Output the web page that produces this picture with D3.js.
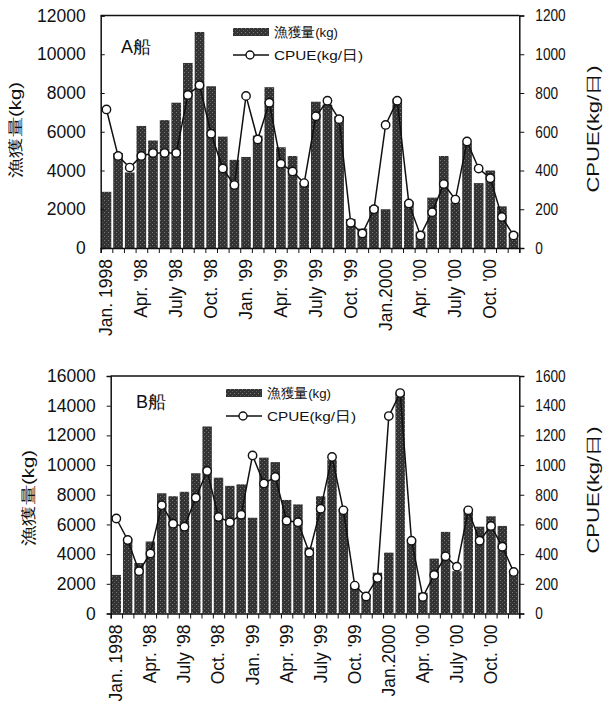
<!DOCTYPE html>
<meta charset="utf-8">
<script src="https://d3js.org/d3.v7.min.js"></script>
<style>
  body { margin: 0; background: #fff; }
  text { font-family: "Liberation Sans", Arial, sans-serif; fill: #111; }
</style>
<div id="chart"></div>
<script>

  // monthly data, Jan 1998 - Dec 2000
  const monthCount = 36
  const xTickLabels = ["Jan. 1998", "Apr. '98", "July '98", "Oct. '98", "Jan. '99", "Apr. '99",
    "July '99", "Oct. '99", "Jan.2000", "Apr. '00", "July '00", "Oct. '00"]

  // ship A
  const catchA = [2900, 4900, 3900, 6300, 5550, 6600, 7500, 9550, 11150, 8350, 5750, 4550,
    4700, 5800, 8300, 5200, 4750, 3350, 7550, 7400, 6800, 1500, 1000, 2150,
    2000, 7700, 2400, 850, 2600, 4750, 2350, 5400, 3350, 4000, 2150, 800]
  const cpueA = [715, 475, 415, 475, 490, 490, 490, 790, 840, 590, 410, 325,
    785, 560, 750, 435, 395, 335, 680, 760, 665, 130, 75, 200,
    635, 760, 230, 65, 185, 330, 250, 550, 410, 360, 160, 65]

  // ship B
  const catchB = [2600, 5050, 3400, 4850, 8100, 7900, 8200, 9450, 12600, 9150, 8600, 8700,
    6450, 10500, 10200, 7650, 7350, 4450, 7900, 10350, 7050, 1850, 1250, 2750,
    4100, 14900, 5000, 1400, 3700, 5500, 2850, 7050, 5850, 6550, 5900, 2900]
  const cpueB = [640, 495, 285, 405, 730, 605, 585, 780, 960, 650, 615, 665,
    1065, 875, 920, 625, 615, 410, 705, 1055, 695, 188, 115, 240,
    1330, 1485, 490, 112, 260, 385, 315, 695, 490, 590, 450, 280]

  const W = 604, H = 709

  const svg = d3.select("#chart")
    .append("svg")
      .attr("width", W)
      .attr("height", H)

  // speckled dark fill like the printed bars
  const defs = svg.append("defs")
  const pat = defs.append("pattern")
    .attr("id", "barfill")
    .attr("patternUnits", "userSpaceOnUse")
    .attr("width", 4).attr("height", 4)
  pat.append("rect").attr("width", 4).attr("height", 4).attr("fill", "#333")
  pat.append("rect").attr("x", 0).attr("y", 0).attr("width", 1).attr("height", 1).attr("fill", "#7a7a7a")
  pat.append("rect").attr("x", 2).attr("y", 2).attr("width", 1).attr("height", 1).attr("fill", "#5e5e5e")

  function drawPanel(cfg) {
    const g = svg.append("g")

    const x = d3.scaleBand()
      .domain(d3.range(monthCount))
      .range([cfg.left, cfg.right])
      .paddingInner(0.17)
      .paddingOuter(0.08)
    const xb = d3.scaleLinear().domain([0, monthCount]).range([cfg.left, cfg.right])

    const yL = d3.scaleLinear().domain([0, cfg.catchMax]).range([cfg.bottom, cfg.top])
    const yR = d3.scaleLinear().domain([0, cfg.cpueMax]).range([cfg.bottom, cfg.top])

    // bars
    g.selectAll("rect.bar")
      .data(cfg.catchData)
      .join("rect")
        .attr("class", "bar")
        .attr("x", (d, i) => x(i))
        .attr("width", x.bandwidth())
        .attr("y", d => yL(d))
        .attr("height", d => cfg.bottom - yL(d))
        .attr("fill", "url(#barfill)")

    // frame top
    g.append("line")
      .attr("x1", cfg.left).attr("x2", cfg.right)
      .attr("y1", cfg.top).attr("y2", cfg.top)
      .attr("stroke", "#111").attr("stroke-width", 1.3)

    // left axis
    const axL = g.append("g")
      .attr("transform", `translate(${cfg.left},0)`)
      .call(d3.axisLeft(yL).tickValues(d3.range(0, cfg.catchMax + 1, cfg.catchStep))
        .tickSize(cfg.leftTick).tickPadding(15 - Math.max(cfg.leftTick, 0)).tickFormat(d3.format("d")))
    axL.select(".domain").attr("stroke", "#111").attr("stroke-width", 1.5)
    axL.selectAll(".tick line").attr("stroke", "#111")
    axL.selectAll("text").style("font-size", "17.5px").attr("fill", "#111")

    // right axis
    const axR = g.append("g")
      .attr("transform", `translate(${cfg.right},0)`)
      .call(d3.axisRight(yR).tickValues(d3.range(0, cfg.cpueMax + 1, cfg.cpueStep))
        .tickSize(5).tickPadding(11).tickFormat(d3.format("d")))
    axR.select(".domain").attr("stroke", "#111").attr("stroke-width", 1.5)
    axR.selectAll(".tick line").attr("stroke", "#111")
    axR.selectAll("text")
      .style("font-size", "16.5px").attr("fill", "#111")
      .attr("textLength", d => String(d).length * 7.6)
      .attr("lengthAdjust", "spacingAndGlyphs")

    // bottom axis: ticks at every month boundary
    const axB = g.append("g")
      .attr("transform", `translate(0,${cfg.bottom})`)
      .call(d3.axisBottom(xb).tickValues(d3.range(monthCount + 1)).tickSize(5).tickFormat(""))
    axB.select(".domain").attr("stroke", "#111").attr("stroke-width", 1.5)
    axB.selectAll(".tick line").attr("stroke", "#111")

    // quarter labels, rotated
    g.selectAll("text.xlab")
      .data(xTickLabels)
      .join("text")
        .attr("class", "xlab")
        .attr("transform", (d, i) => `translate(${x(i * 3) + x.bandwidth() / 2 + 6},${cfg.bottom + 11}) rotate(-90)`)
        .attr("text-anchor", "end")
        .style("font-size", "17.5px")
        .text(d => d)

    // CPUE line
    const line = d3.line()
      .x((d, i) => x(i) + x.bandwidth() / 2)
      .y(d => yR(d))
    g.append("path")
      .datum(cfg.cpueData)
      .attr("d", line)
      .attr("fill", "none")
      .attr("stroke", "#111")
      .attr("stroke-width", 1.5)

    g.selectAll("circle.pt")
      .data(cfg.cpueData)
      .join("circle")
        .attr("class", "pt")
        .attr("cx", (d, i) => x(i) + x.bandwidth() / 2)
        .attr("cy", d => yR(d))
        .attr("r", 4.2)
        .attr("fill", "#fff")
        .attr("stroke", "#111")
        .attr("stroke-width", 1.4)

    // axis titles
    g.append("text")
      .attr("transform", `translate(${cfg.leftTitleX},${cfg.leftTitleY}) rotate(-90)`)
      .attr("text-anchor", "middle")
      .attr("dy", "0.35em")
      .style("font-size", "16px")
      .attr("textLength", 96)
      .attr("lengthAdjust", "spacingAndGlyphs")
      .text("漁獲量(kg)")
    g.append("text")
      .attr("transform", `translate(${cfg.rightTitleX},${cfg.rightTitleY}) rotate(-90)`)
      .attr("text-anchor", "middle")
      .attr("dy", "0.35em")
      .style("font-size", "16px")
      .attr("textLength", 127)
      .attr("lengthAdjust", "spacingAndGlyphs")
      .text("CPUE(kg/日)")

    // ship name
    g.append("text")
      .attr("x", cfg.nameX).attr("y", cfg.nameY)
      .style("font-size", "18px")
      .text(cfg.name)

    // legend
    const lg = g.append("g").attr("transform", `translate(${cfg.legX},${cfg.legY})`)
    lg.append("rect")
      .attr("x", 0).attr("y", -4).attr("width", 36).attr("height", 8)
      .attr("fill", "url(#barfill)")
    lg.append("text")
      .attr("x", 41).attr("y", 0).attr("dy", "0.35em")
      .style("font-size", "13.5px")
      .attr("textLength", 64).attr("lengthAdjust", "spacingAndGlyphs")
      .text("漁獲量(kg)")
    lg.append("line")
      .attr("x1", 0).attr("x2", 36).attr("y1", 23).attr("y2", 23)
      .attr("stroke", "#111").attr("stroke-width", 1.4)
    lg.append("circle")
      .attr("cx", 17).attr("cy", 23).attr("r", 4)
      .attr("fill", "#fff").attr("stroke", "#111").attr("stroke-width", 1.4)
    lg.append("text")
      .attr("x", 41).attr("y", 23).attr("dy", "0.35em")
      .style("font-size", "13.5px")
      .attr("textLength", 89).attr("lengthAdjust", "spacingAndGlyphs")
      .text("CPUE(kg/日)")
  }

  drawPanel({
    name: "A船", catchData: catchA, cpueData: cpueA,
    left: 100.7, right: 519.3, top: 15.5, bottom: 248,
    catchMax: 12000, catchStep: 2000, cpueMax: 1200, cpueStep: 200,
    leftTick: -4,
    leftTitleX: 15, leftTitleY: 130, rightTitleX: 593, rightTitleY: 129,
    nameX: 121, nameY: 53, legX: 233, legY: 32
  })

  drawPanel({
    name: "B船", catchData: catchB, cpueData: cpueB,
    left: 110.7, right: 519.3, top: 376, bottom: 613.5,
    catchMax: 16000, catchStep: 2000, cpueMax: 1600, cpueStep: 200,
    leftTick: 4,
    leftTitleX: 28, leftTitleY: 498, rightTitleX: 593, rightTitleY: 490,
    nameX: 136, nameY: 408, legX: 226, legY: 393
  })

</script>
